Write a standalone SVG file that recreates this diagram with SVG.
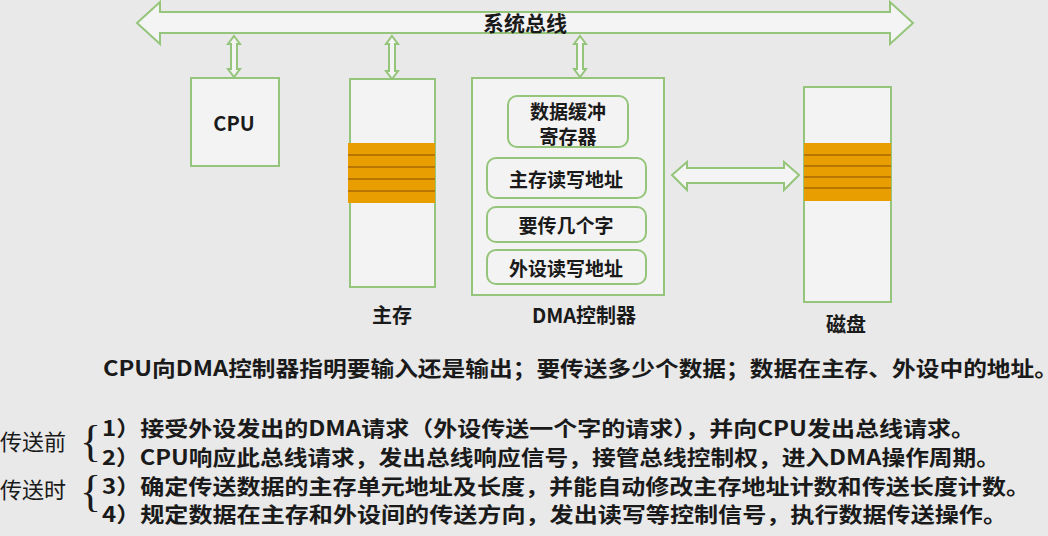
<svg xmlns="http://www.w3.org/2000/svg" width="1048" height="536" viewBox="0 0 1048 536">
<style>
.bg{fill:#e9e9e9}
.box{fill:#f3f3f3;stroke:#95c57a;stroke-width:2}
.rbox{fill:#f3f3f3;stroke:#95c57a;stroke-width:2}
.arr{fill:#f4f4f4;stroke:#95c57a;stroke-width:2;stroke-linejoin:miter}
.band{fill:#e89d00}
.bline{stroke:#a86a00;stroke-width:1.5}
.lbl{font-family:"Noto Sans CJK SC","Liberation Sans",sans-serif;font-weight:bold;fill:#1a1a1a;text-anchor:middle;dominant-baseline:central}
.inner{font-family:"Noto Sans CJK SC","Liberation Sans",sans-serif;font-weight:600;font-size:19px;fill:#1a1a1a;text-anchor:middle;dominant-baseline:central}
.line{font-family:"Noto Sans CJK SC","Liberation Sans",sans-serif;font-weight:600;font-size:21px;fill:#1a1a1a}
.side{font-family:"Noto Sans CJK SC",sans-serif;font-size:22px;fill:#1a1a1a}
.brace{font-family:"Liberation Serif",serif;font-size:44px;fill:#1a1a1a}
</style>
<rect class="bg" x="0" y="0" width="1048" height="536"/>

<g id="connectors">
  <path id="bus" class="arr" d="M137,23 L160,2 L160,12 L890,12 L890,2 L913,23 L890,44 L890,33 L160,33 L160,44 Z"/>
  <path class="arr" d="M234,36 L240,44 L237,44 L237,69 L240,69 L234,77 L228,69 L231,69 L231,44 L228,44 Z"/>
  <path class="arr" d="M392,36 L398,44 L395,44 L395,71 L398,71 L392,79 L386,71 L389,71 L389,44 L386,44 Z"/>
  <path class="arr" d="M580,36 L586,44 L583,44 L583,69 L586,69 L580,77 L574,69 L577,69 L577,44 L574,44 Z"/>
  <path class="arr" d="M672,175 L687,162 L687,168 L784,168 L784,162 L799,175 L784,190 L784,183 L687,183 L687,190 Z"/>
</g>
<text class="lbl" x="525" y="22" font-size="21">系统总线</text>

<g id="cpu">
  <rect class="box" x="191" y="78" width="88" height="88"/>
  <text class="lbl" x="234" y="122" font-size="20">CPU</text>
</g>

<g id="memory">
  <rect class="box" x="350" y="79" width="85" height="208"/>
  <rect class="band" x="348" y="143" width="87" height="60"/>
  <line class="bline" x1="348" y1="155" x2="435" y2="155"/>
  <line class="bline" x1="348" y1="167" x2="435" y2="167"/>
  <line class="bline" x1="348" y1="179" x2="435" y2="179"/>
  <line class="bline" x1="348" y1="191" x2="435" y2="191"/>
  <text class="lbl" x="392" y="314" font-size="20">主存</text>
</g>

<g id="dma">
  <rect class="box" x="472" y="78" width="192" height="217"/>
  <rect class="rbox" x="508" y="96" width="120" height="51" rx="9"/>
  <text class="inner" x="568" y="110">数据缓冲</text>
  <text class="inner" x="568" y="135">寄存器</text>
  <rect class="rbox" x="487" y="158" width="159" height="40" rx="9"/>
  <text class="inner" x="566" y="178">主存读写地址</text>
  <rect class="rbox" x="487" y="207" width="159" height="35" rx="9"/>
  <text class="inner" x="566" y="224">要传几个字</text>
  <rect class="rbox" x="487" y="250" width="159" height="34" rx="9"/>
  <text class="inner" x="566" y="267">外设读写地址</text>
  <text class="lbl" x="584" y="314" font-size="20">DMA控制器</text>
</g>

<g id="disk">
  <rect class="box" x="804" y="87" width="87" height="215"/>
  <rect class="band" x="804" y="143" width="87" height="58"/>
  <line class="bline" x1="804" y1="155" x2="891" y2="155"/>
  <line class="bline" x1="804" y1="166" x2="891" y2="166"/>
  <line class="bline" x1="804" y1="177" x2="891" y2="177"/>
  <line class="bline" x1="804" y1="188" x2="891" y2="188"/>
  <text class="lbl" x="846" y="323" font-size="20">磁盘</text>
</g>

<g id="notes">
  <text class="line" x="103" y="376" textLength="955" lengthAdjust="spacingAndGlyphs">CPU向DMA控制器指明要输入还是输出；要传送多少个数据；数据在主存、外设中的地址。</text>
  <text class="side" x="0" y="450">传送前</text>
  <text class="brace" x="80" y="456">{</text>
  <text class="line" x="102" y="436" textLength="873" lengthAdjust="spacingAndGlyphs">1）接受外设发出的DMA请求（外设传送一个字的请求），并向CPU发出总线请求。</text>
  <text class="line" x="102" y="465" textLength="898" lengthAdjust="spacingAndGlyphs">2）CPU响应此总线请求，发出总线响应信号，接管总线控制权，进入DMA操作周期。</text>
  <text class="side" x="0" y="498">传送时</text>
  <text class="brace" x="80" y="506">{</text>
  <text class="line" x="102" y="494" textLength="928" lengthAdjust="spacingAndGlyphs">3）确定传送数据的主存单元地址及长度，并能自动修改主存地址计数和传送长度计数。</text>
  <text class="line" x="102" y="522" textLength="905" lengthAdjust="spacingAndGlyphs">4）规定数据在主存和外设间的传送方向，发出读写等控制信号，执行数据传送操作。</text>
</g>
</svg>
